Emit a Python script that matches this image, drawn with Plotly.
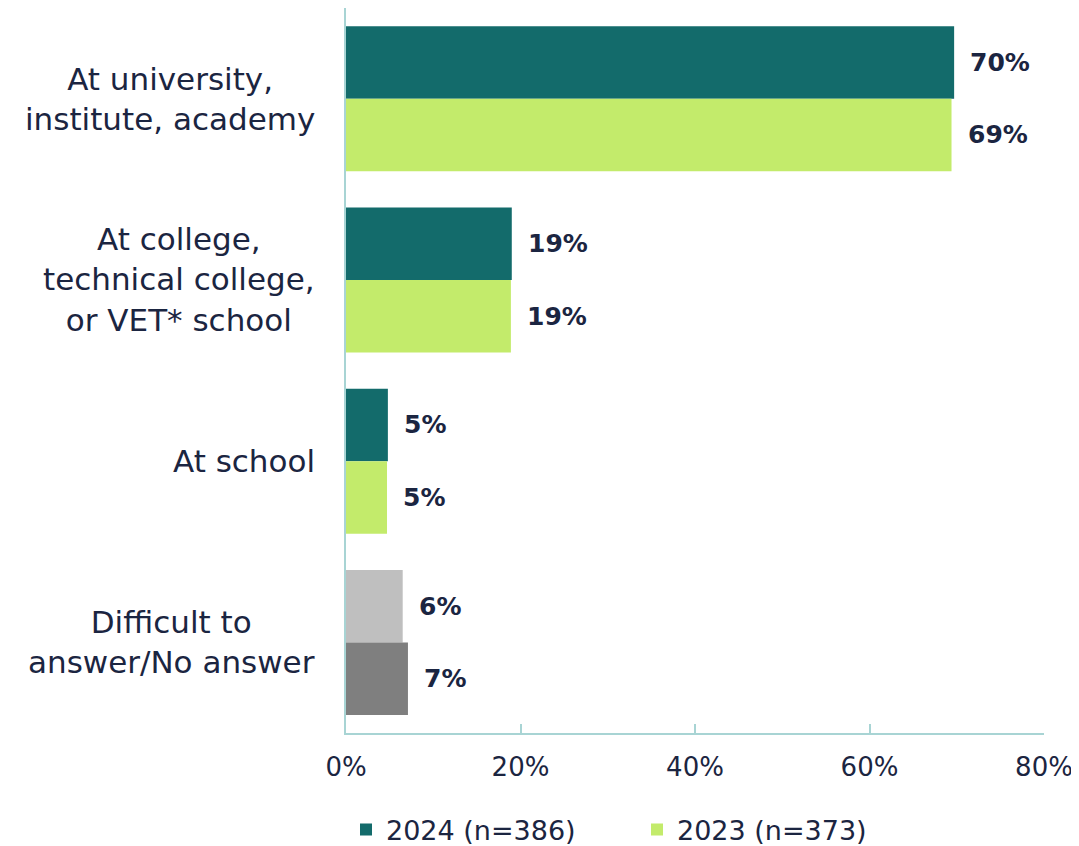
import plotly.graph_objects as go

categories = [
    "At university,<br>institute, academy",
    "At college,<br>technical college,<br>or VET* school",
    "At school",
    "Difficult to<br>answer/No answer",
]
values_2024 = [69.7, 19.0, 4.8, 6.5]
values_2023 = [69.4, 18.9, 4.7, 7.1]
labels_2024 = ["70%", "19%", "5%", "6%"]
labels_2023 = ["69%", "19%", "5%", "7%"]
series_names = ["2024 (n=386)", "2023 (n=373)"]
colors_2024 = ["#136B6B", "#136B6B", "#136B6B", "#BFBFBF"]
colors_2023 = ["#C3EB6B", "#C3EB6B", "#C3EB6B", "#7F7F7F"]
x_ticks = [0, 20, 40, 60, 80]
x_tick_labels = ["0%", "20%", "40%", "60%", "80%"]

FONT = "DejaVu Sans"
NAVY = "#1B2541"
AXIS = "#A8D4D4"

fig = go.Figure()
fig.add_trace(go.Bar(y=categories, x=values_2024, orientation="h", name=series_names[0],
                     marker=dict(color=colors_2024, line=dict(width=0))))
fig.add_trace(go.Bar(y=categories, x=values_2023, orientation="h", name=series_names[1],
                     marker=dict(color=colors_2023, line=dict(width=0))))

annotations = []
for cat, v, lab in zip(categories, values_2024, labels_2024):
    annotations.append(dict(x=v, y=cat, xref="x", yref="y", text="<b>%s</b>" % lab,
                            showarrow=False, xanchor="left", yanchor="middle",
                            xshift=14, yshift=36.3,
                            font=dict(family=FONT, size=25, color=NAVY)))
for cat, v, lab in zip(categories, values_2023, labels_2023):
    annotations.append(dict(x=v, y=cat, xref="x", yref="y", text="<b>%s</b>" % lab,
                            showarrow=False, xanchor="left", yanchor="middle",
                            xshift=14, yshift=-36.3,
                            font=dict(family=FONT, size=25, color=NAVY)))
for cat in categories:
    annotations.append(dict(x=0, y=cat, xref="paper", yref="y", text=cat,
                            showarrow=False, xanchor="right", yanchor="middle",
                            align="center", xshift=-29,
                            font=dict(family=FONT, size=31, color=NAVY)))

fig.update_layout(
    width=1071, height=850,
    margin=dict(l=338, r=35, t=0, b=125, autoexpand=False),
    paper_bgcolor="white", plot_bgcolor="white",
    barmode="group", bargap=0.2, bargroupgap=0,
    font=dict(family=FONT, color=NAVY),
    annotations=annotations,
    showlegend=True,
    legend=dict(orientation="h", x=0.0, xanchor="left", y=-0.1338, yanchor="middle",
                font=dict(family=FONT, size=27, color=NAVY),
                entrywidth=246, entrywidthmode="pixels", itemwidth=30),
    xaxis=dict(range=[0, 80], tickmode="array", tickvals=x_ticks, ticktext=x_tick_labels,
               showgrid=False, zeroline=False, showline=True, linecolor=AXIS, linewidth=1.5,
               ticks="inside", ticklen=9, tickcolor=AXIS, tickwidth=1.5,
               tickfont=dict(family=FONT, size=26, color=NAVY),
               ticklabelstandoff=10),
    yaxis=dict(type="category", categoryorder="array", categoryarray=categories,
               autorange="reversed", showline=True, linecolor=AXIS, linewidth=1.5,
               showticklabels=False, ticks="", showgrid=False, zeroline=False),
)

fig.write_html("out.html")
